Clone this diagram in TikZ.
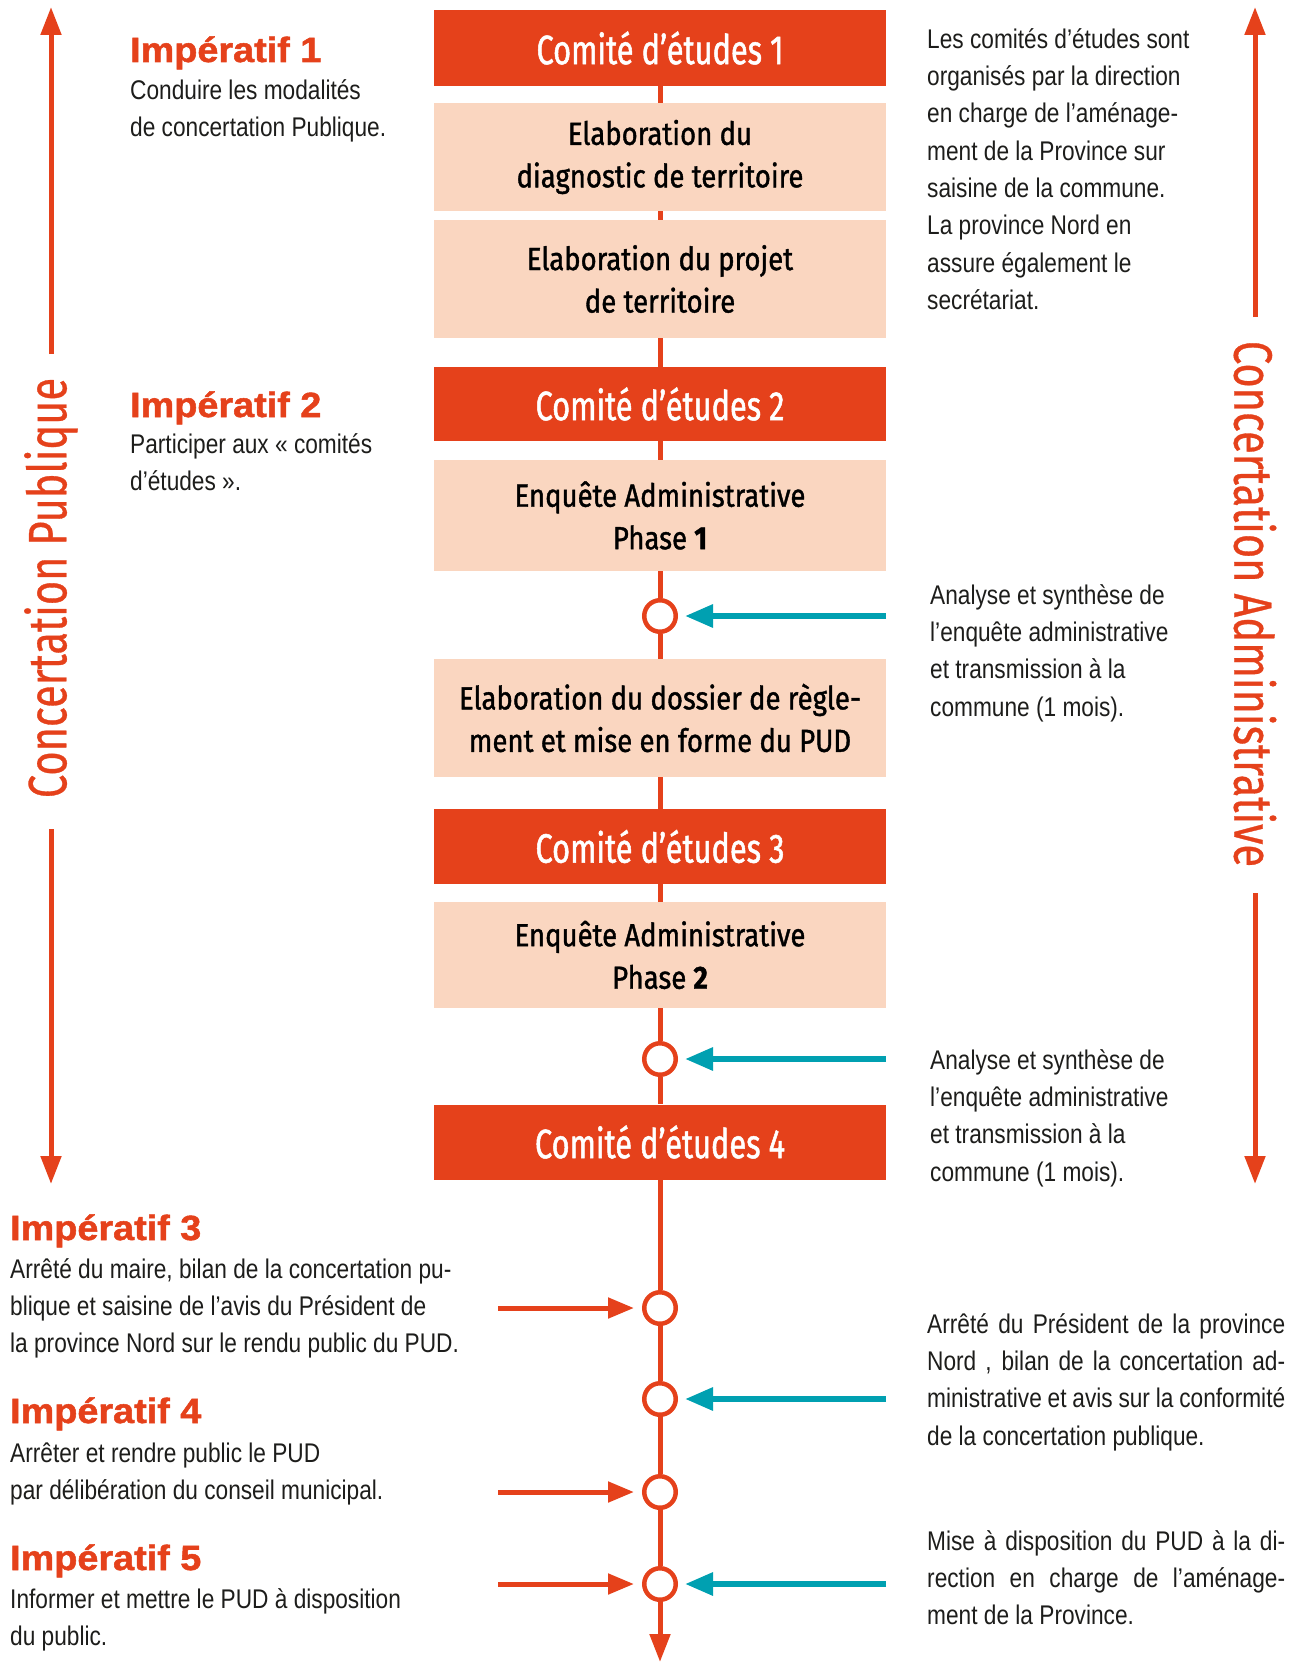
\documentclass[tikz,border=0pt]{standalone}
\usepackage{fontspec}
\setmainfont{Liberation Sans}[FakeStretch=0.84]
\newfontfamily\headfont{Liberation Sans}[FakeStretch=1.08, BoldFeatures={FakeBold=1.5}]
\newfontfamily\comfont{Fira Sans}[FakeStretch=0.75, FakeBold=1.2]
\newfontfamily\stagefont{Fira Sans}[FakeStretch=0.86, FakeBold=1.2]
\newfontfamily\vfont{Fira Sans}[FakeStretch=0.77, FakeBold=0.6]
\usetikzlibrary{arrows.meta}
\definecolor{orng}{HTML}{E5411B}
\definecolor{peach}{HTML}{FAD6C0}
\definecolor{tealc}{HTML}{00A0B1}
\definecolor{ink}{HTML}{1D1D1B}
\newcommand\topstrut{\rule{0pt}{30pt}}
\newcommand\jline[1]{\makebox[358pt][s]{#1}}
\tikzset{
  comite/.style={rectangle, fill=orng, minimum width=452pt, minimum height=75pt, inner sep=0pt,
    text=white, font=\comfont\fontsize{41}{45}\selectfont},
  stage/.style={rectangle, fill=peach, minimum width=452pt, inner sep=0pt, align=center,
    text=black, font=\stagefont\fontsize{32}{42.5}\selectfont},
  dot/.style={circle, draw=orng, line width=4.5pt, fill=white, minimum size=31.5pt, inner sep=0pt},
  spine/.style={draw=orng, line width=5pt},
  tarr/.style={draw=tealc, line width=6pt, -{Triangle[length=28pt,width=22pt]}, shorten >=7pt},
  oarr/.style={draw=orng, line width=5pt, -{Triangle[length=26pt,width=20pt]}, shorten >=8pt},
  bigarr/.style={draw=orng, line width=5pt, -{Triangle[length=28pt,width=20pt]}},
  head/.style={anchor=base west, inner sep=0pt, text=orng, font=\headfont\bfseries\fontsize{35}{40}\selectfont},
  body/.style={anchor=north west, inner sep=0pt, align=left, text=ink, font=\fontsize{27}{37.3}\selectfont},
  vtext/.style={inner sep=0pt, text=orng, font=\vfont\fontsize{54}{60}\selectfont}
}
\begin{document}
\begin{tikzpicture}[x=1pt, y=-1pt]
\useasboundingbox (0,0) rectangle (1298,1662);
% central column
\node[comite] (c1) at (660,48) {Comité d’études 1};
\node[stage, minimum height=108pt] (b2) at (660,157) {Elaboration du\\diagnostic de territoire};
\node[stage, minimum height=118pt] (b3) at (660,279) {Elaboration du projet\\de territoire};
\node[comite, minimum height=74pt] (c2) at (660,404) {Comité d’études 2};
\node[stage, minimum height=111pt] (e1) at (660,515.5) {Enquête Administrative\\Phase {\bfseries 1}};
\node[dot] (o1) at (660,616) {};
\node[stage, minimum height=118pt] (d) at (660,718) {Elaboration du dossier de règle-\\ment et mise en forme du PUD};
\node[comite] (c3) at (660,846.5) {Comité d’études 3};
\node[stage, minimum height=106pt] (e2) at (660,955) {Enquête Administrative\\Phase {\bfseries 2}};
\node[dot] (o2) at (660,1059) {};
\node[comite] (c4) at (660,1142) {Comité d’études 4};
\node[dot] (o3) at (660,1308) {};
\node[dot] (o4) at (660,1399) {};
\node[dot] (o5) at (660,1492) {};
\node[dot] (o6) at (660,1584) {};
\coordinate (bot) at (660,1662);
% spine
\draw[spine] (c1) -- (b2);
\draw[spine] (b2) -- (b3);
\draw[spine] (b3) -- (c2);
\draw[spine] (c2) -- (e1);
\draw[spine] (e1) -- (o1);
\draw[spine] (o1) -- (d);
\draw[spine] (d) -- (c3);
\draw[spine] (c3) -- (e2);
\draw[spine] (e2) -- (o2);
\draw[spine] (o2) -- (c4);
\draw[spine] (c4) -- (o3);
\draw[spine] (o3) -- (o4);
\draw[spine] (o4) -- (o5);
\draw[spine] (o5) -- (o6);
\draw[bigarr] (o6) -- (bot);
% teal arrows
\draw[tarr] (e1.east |- o1) -- (o1);
\draw[tarr] (e2.east |- o2) -- (o2);
\draw[tarr] (c4.east |- o4) -- (o4);
\draw[tarr] (c4.east |- o6) -- (o6);
% orange arrows from the left
\coordinate (l3) at (498,1308);
\coordinate (l5) at (498,1492);
\coordinate (l6) at (498,1584);
\draw[oarr] (l3) -- (o3);
\draw[oarr] (l5) -- (o5);
\draw[oarr] (l6) -- (o6);
% vertical side labels
\node[vtext, rotate=90] (cp) at (51,588) {Concertation Publique};
\coordinate (cpt) at (51,354); \coordinate (cptt) at (51,7);
\coordinate (cpb) at (51,829); \coordinate (cpbb) at (51,1184);
\draw[bigarr] (cpt) -- (cptt);
\draw[bigarr] (cpb) -- (cpbb);
\node[vtext, rotate=-90] (ca) at (1255,604) {Concertation Administrative};
\coordinate (cat) at (1255,317); \coordinate (catt) at (1255,7);
\coordinate (cab) at (1255,893); \coordinate (cabb) at (1255,1184);
\draw[bigarr] (cat) -- (catt);
\draw[bigarr] (cab) -- (cabb);
% imperatifs
\node[head] (h1) at (130,62) {Impératif 1};
\node[body] (t1) at (130,69) {\topstrut Conduire les modalités\\de concertation Publique.};
\node[head] (h2) at (130,417) {Impératif 2};
\node[body] (t2) at (130,423) {\topstrut Participer aux « comités\\d’études ».};
\node[head] (h3) at (10,1240) {Impératif 3};
\node[body] (t3) at (10,1248) {\topstrut Arrêté du maire, bilan de la concertation pu-\\blique et saisine de l’avis du Président de\\la province Nord sur le rendu public du PUD.};
\node[head] (h4) at (10,1423) {Impératif 4};
\node[body] (t4) at (10,1432) {\topstrut Arrêter et rendre public le PUD\\par délibération du conseil municipal.};
\node[head] (h5) at (10,1570) {Impératif 5};
\node[body] (t5) at (10,1578) {\topstrut Informer et mettre le PUD à disposition\\du public.};
% right notes
\node[body] (r1) at (927,18) {\topstrut Les comités d’études sont\\organisés par la direction\\en charge de l’aménage-\\ment de la Province sur\\saisine de la commune.\\La province Nord en\\assure également le\\secrétariat.};
\node[body] (r2) at (930,574) {\topstrut Analyse et synthèse de\\l’enquête administrative\\et transmission à la\\commune (1 mois).};
\node[body] (r3) at (930,1039) {\topstrut Analyse et synthèse de\\l’enquête administrative\\et transmission à la\\commune (1 mois).};
\node[body] (r4) at (927,1303) {\topstrut\jline{Arrêté du Président de la province}\\\jline{Nord , bilan de la concertation ad-}\\\jline{ministrative et avis sur la conformité}\\de la concertation publique.};
\node[body] (r5) at (927,1520) {\topstrut\jline{Mise à disposition du PUD à la di-}\\\jline{rection en charge de l’aménage-}\\ment de la Province.};
\end{tikzpicture}
\end{document}
